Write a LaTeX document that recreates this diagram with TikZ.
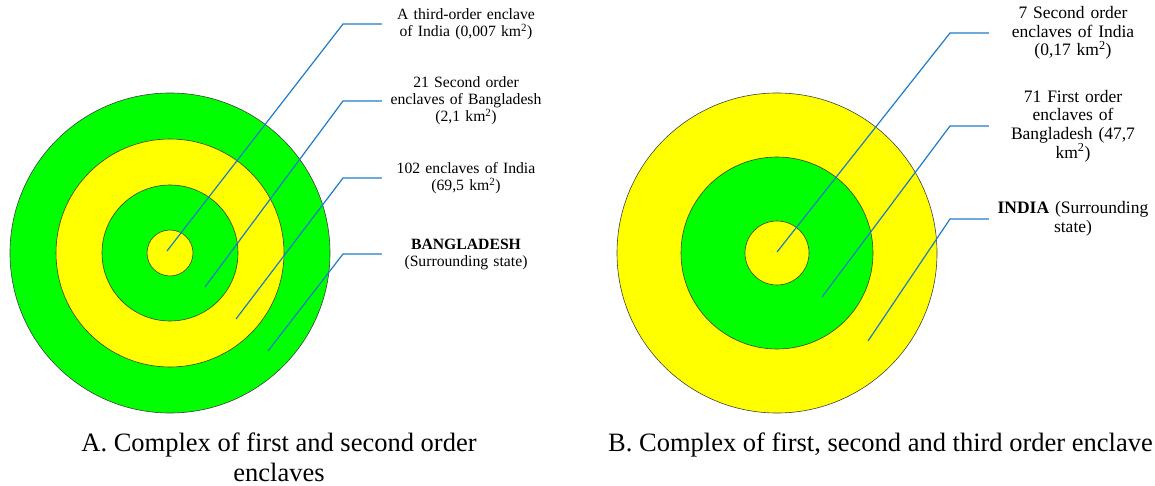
\documentclass[tikz,border=0pt]{standalone}
\usepackage{fontspec}
\setmainfont{Liberation Serif}
\definecolor{enclgreen}{HTML}{00FF00}
\definecolor{enclyellow}{HTML}{FFFF00}
\definecolor{leaderblue}{HTML}{1E7BC8}

\begin{document}
\begin{tikzpicture}[x=1pt, y=-1pt,
	ring/.style={circle, draw=black!75, line width=0.6pt, inner sep=0pt},
	leader/.style={draw=leaderblue, line width=1.2pt},
	noteA/.style={text width=160pt, align=center, inner sep=4pt, font=\fontsize{15.7}{17}\selectfont},
	noteB/.style={noteA, font=\fontsize{17.5}{18.7}\selectfont},
	caption/.style={align=center, inner sep=0pt, font=\fontsize{26.5}{30}\selectfont}]
	\useasboundingbox (0,0) rectangle (1155,486);

	% Panel A: rings
	\node[ring, fill=enclgreen, minimum size=320pt] (bdA) at (170,253) {};
	\node[ring, fill=enclyellow, minimum size=228pt] (inA) at (170,253) {};
	\node[ring, fill=enclgreen, minimum size=136pt] (snA) at (170,253) {};
	\node[ring, fill=enclyellow, minimum size=46pt] (thA) at (170,253) {};

	% Panel A: labels
	\node[noteA] (tA1) at (466,24) {A third-order enclave\\of India (0,007 km\textsuperscript{2})};
	\node[noteA] (tA2) at (466,101) {21 Second order\\enclaves of Bangladesh\\(2,1 km\textsuperscript{2})};
	\node[noteA] (tA3) at (466,178) {102 enclaves of India\\(69,5 km\textsuperscript{2})};
	\node[noteA] (tA4) at (466,254) {\textbf{BANGLADESH}\\(Surrounding state)};

	% Panel A: leader lines
	\coordinate (pA1) at (167,251);
	\coordinate (pA2) at (205,287);
	\coordinate (pA3) at (236,319);
	\coordinate (pA4) at (268,351);
	\coordinate (kA1) at (343,24);
	\coordinate (kA2) at (343,101);
	\coordinate (kA3) at (343,178);
	\coordinate (kA4) at (343,254);
	\draw[leader] (pA1) -- (kA1) -- (tA1.west);
	\draw[leader] (pA2) -- (kA2) -- (tA2.west);
	\draw[leader] (pA3) -- (kA3) -- (tA3.west);
	\draw[leader] (pA4) -- (kA4) -- (tA4.west);

	% Panel B: rings
	\node[ring, fill=enclyellow, minimum size=320pt] (inB) at (777,253) {};
	\node[ring, fill=enclgreen, minimum size=192pt] (bdB) at (777,253) {};
	\node[ring, fill=enclyellow, minimum size=64pt] (snB) at (777,253) {};

	% Panel B: labels
	\node[noteB] (tB1) at (1073,33) {7 Second order\\enclaves of India\\(0,17 km\textsuperscript{2})};
	\node[noteB] (tB2) at (1073,126) {71 First order\\enclaves of\\Bangladesh (47,7\\km\textsuperscript{2})};
	\node[noteB] (tB3) at (1073,219) {\textbf{INDIA} (Surrounding\\state)};

	% Panel B: leader lines
	\coordinate (pB1) at (777,252);
	\coordinate (pB2) at (822,297);
	\coordinate (pB3) at (868,341);
	\coordinate (kB1) at (950,33);
	\coordinate (kB2) at (950,126);
	\coordinate (kB3) at (950,219);
	\draw[leader] (pB1) -- (kB1) -- (tB1.west);
	\draw[leader] (pB2) -- (kB2) -- (tB2.west);
	\draw[leader] (pB3) -- (kB3) -- (tB3.west);

	% Captions
	\node[caption] (capA) at (279,457) {A. Complex of first and second order\\enclaves};
	\node[caption, anchor=west] (capB) at (608,445) {B. Complex of first, second and third order enclave};

\end{tikzpicture}
\end{document}
